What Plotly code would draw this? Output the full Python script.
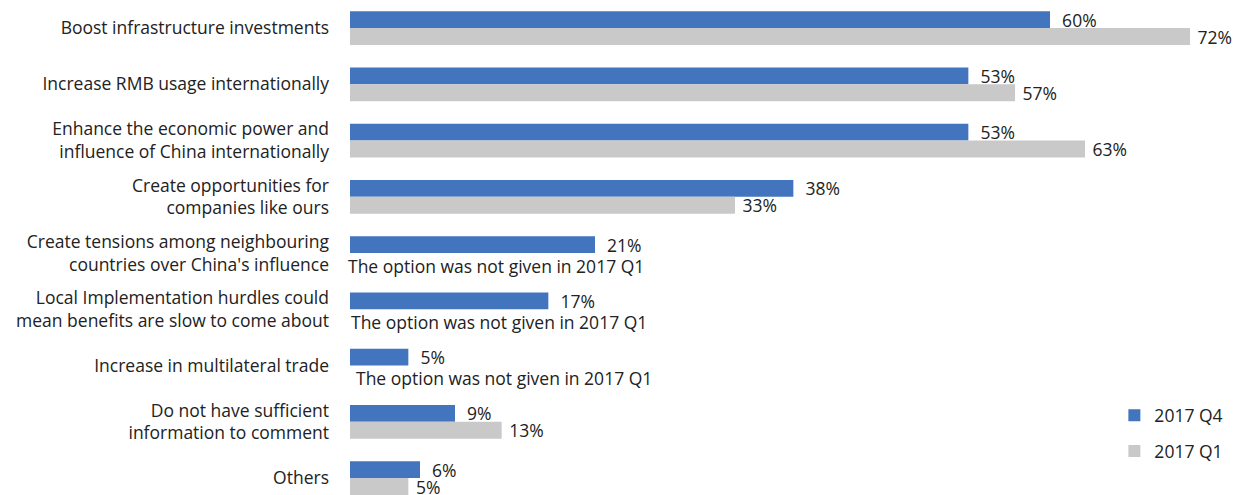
import plotly.graph_objects as go

# Survey answers (share of respondents, %)
categories = [
    "Boost infrastructure investments",
    "Increase RMB usage internationally",
    "Enhance the economic power and<br>influence of China internationally",
    "Create opportunities for<br>companies like ours",
    "Create tensions among neighbouring<br>countries over China's influence",
    "Local Implementation hurdles could<br>mean benefits are slow to come about",
    "Increase in multilateral trade",
    "Do not have sufficient<br>information to comment",
    "Others",
]
q4_2017 = [60, 53, 53, 38, 21, 17, 5, 9, 6]
q1_2017 = [72, 57, 63, 33, None, None, None, 13, 5]
not_given_note = "The option was not given in 2017 Q1"

FONT = "Open Sans"
FS = 17.5
TEXT_COLOR = "#222222"
BLUE = "#4275BE"
GREY = "#C9C9C9"

pos = list(range(len(categories)))


def pct_labels(values, pad):
    return ["" if v is None else pad + f"{v}%" for v in values]


fig = go.Figure()
fig.add_trace(go.Bar(
    name="2017 Q4", y=pos, x=q4_2017, orientation="h",
    marker=dict(color=BLUE, line=dict(width=0)),
    text=pct_labels(q4_2017, "\u00a0\u00a0"), textposition="outside",
    constraintext="none",
    textfont=dict(family=FONT, size=FS, color=TEXT_COLOR),
    legendgroup="q4", cliponaxis=True, hoverinfo="x+name",
))
fig.add_trace(go.Bar(
    name="2017 Q1", y=pos, x=q1_2017, orientation="h",
    marker=dict(color=GREY, line=dict(width=0)),
    text=pct_labels(q1_2017, "\u00a0"), textposition="outside",
    constraintext="none",
    textfont=dict(family=FONT, size=FS, color=TEXT_COLOR),
    legendgroup="q1", cliponaxis=True, hoverinfo="x+name",
))

# Note in the empty 2017 Q1 slot for options that were not asked then
note_shift = {4: -4, 5: -1, 6: 4}
for i, v in enumerate(q1_2017):
    if v is None:
        fig.add_annotation(
            x=0, y=i + 0.15, xref="x", yref="y", text=not_given_note,
            showarrow=False, xanchor="left", yanchor="middle", yshift=-4,
            xshift=note_shift.get(i, 0),
            font=dict(family=FONT, size=FS, color=TEXT_COLOR),
        )

fig.update_layout(
    width=1244, height=495,
    margin=dict(l=350, r=0, t=0, b=0),
    paper_bgcolor="white", plot_bgcolor="white",
    barmode="group", bargap=0.4, bargroupgap=0,
    font=dict(family=FONT, size=FS, color=TEXT_COLOR),
    showlegend=True,
    legend=dict(
        x=0.855, y=0.197, xanchor="left", yanchor="top",
        traceorder="grouped", tracegroupgap=10,
        font=dict(family=FONT, size=FS, color=TEXT_COLOR),
        bgcolor="rgba(0,0,0,0)", itemwidth=30,
    ),
)
fig.update_xaxes(range=[0, 894 / 11.667], visible=False, fixedrange=True)
fig.update_yaxes(
    tickmode="array", tickvals=pos, ticktext=categories,
    range=[8.3, -0.5], showgrid=False, zeroline=False, showline=False,
    ticks="", ticklabelstandoff=20,
    tickfont=dict(family=FONT, size=FS, color=TEXT_COLOR),
    automargin=False,
)

fig.write_html("out.html")
